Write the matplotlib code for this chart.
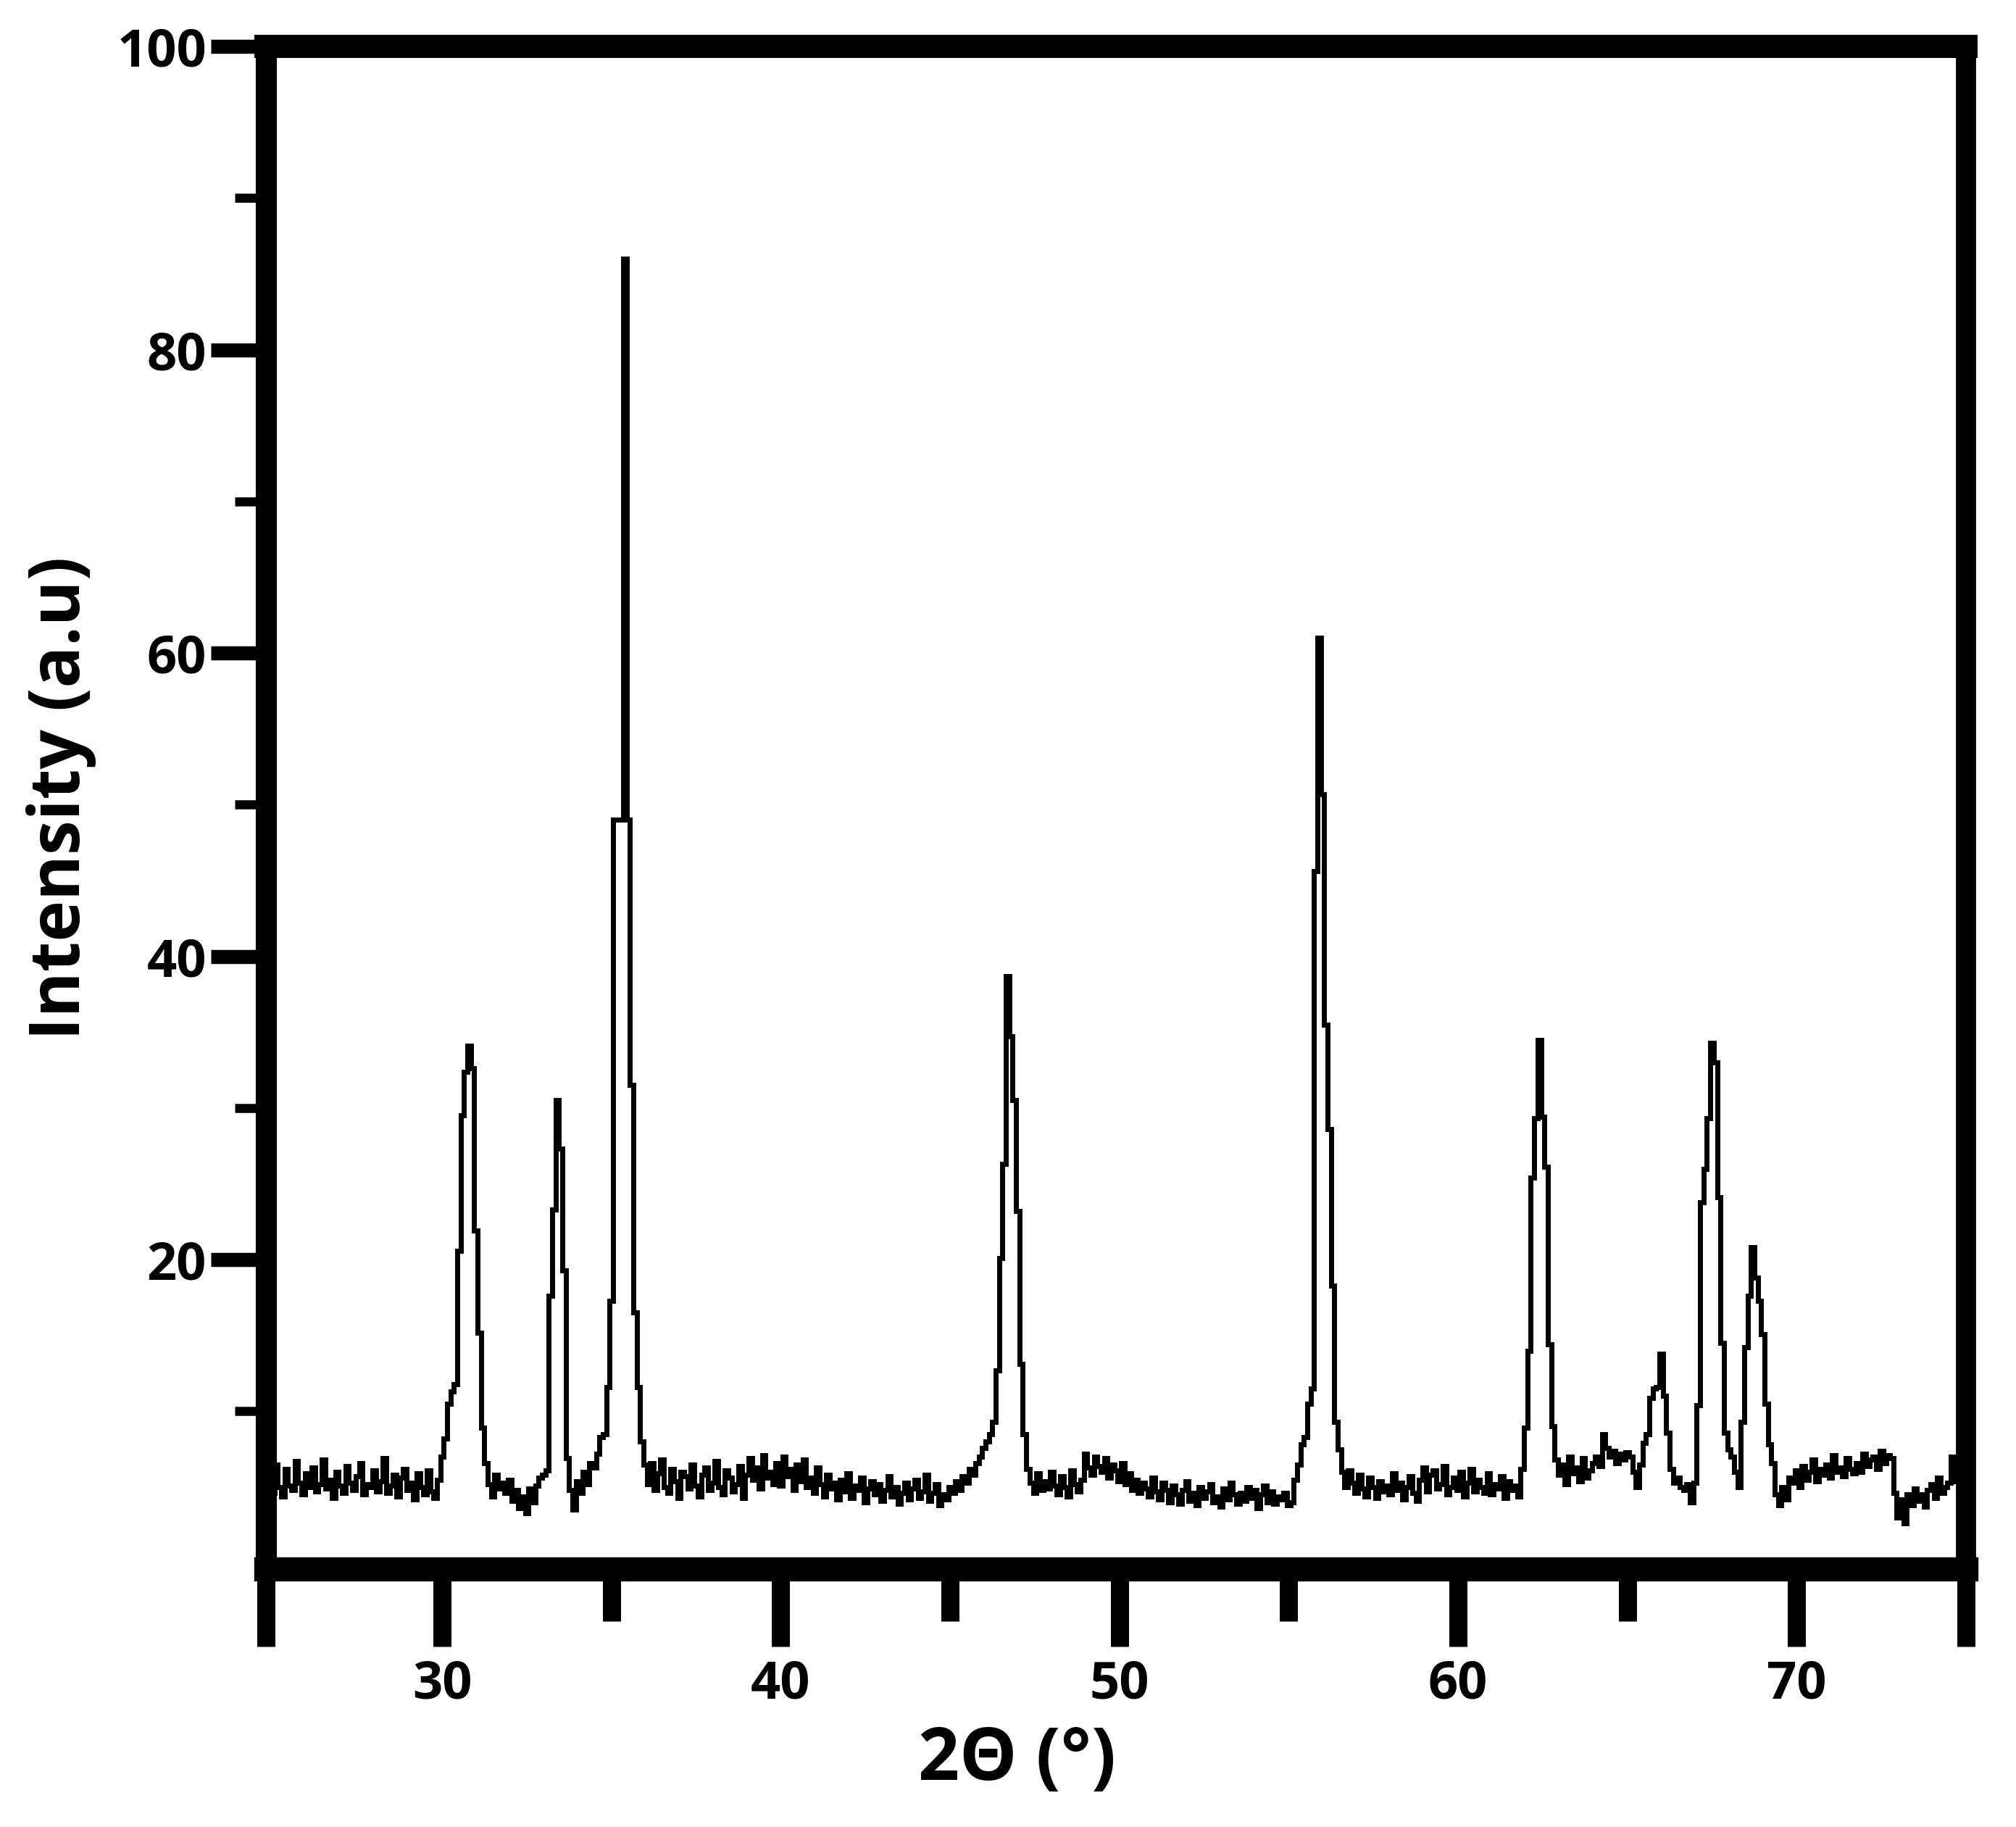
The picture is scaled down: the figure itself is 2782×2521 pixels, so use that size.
import numpy as np
import matplotlib
matplotlib.use("Agg")
import matplotlib.pyplot as plt
from matplotlib.ticker import FixedLocator

# ---------------- data ----------------
two_theta_start = 24.9   # first sample position (deg)
two_theta_step = 0.1     # sampling step (deg)

intensity = [
    5.8, 4.6, 6.5, 5.0, 4.4, 6.2, 5.1, 4.8, 6.7, 5.3,
    4.5, 5.9, 5.0, 6.3, 4.7, 5.2, 6.8, 4.9, 5.5, 4.3,
    6.0, 5.1, 4.6, 6.4, 5.3, 4.8, 5.7, 6.6, 4.5, 5.2,
    5.0, 6.1, 4.7, 5.4, 6.9, 4.6, 5.1, 5.8, 4.4, 5.6,
    6.2, 4.8, 5.3, 4.2, 5.9, 5.0, 4.5, 6.1, 4.7, 4.3,
    5.5, 7.0, 8.2, 10.5, 11.3, 11.8, 20.6, 29.5, 32.4, 34.1,
    32.6, 21.9, 15.2, 8.9, 6.6, 5.2, 4.4, 5.8, 4.9, 5.3,
    4.6, 5.5, 4.1, 4.8, 3.6, 4.4, 3.3, 4.9, 4.0, 5.1,
    5.6, 5.8, 6.1, 17.6, 23.3, 30.5, 27.3, 19.3, 6.9, 4.8,
    3.5, 5.4, 4.6, 6.0, 5.2, 6.6, 6.3, 7.2, 8.3, 8.5,
    11.6, 17.3, 49.0, 49.0, 49.0, 86.0, 49.0, 31.5, 16.5, 11.6,
    8.0, 6.5, 5.2, 6.6, 4.8, 5.9, 6.8, 5.0, 4.6, 6.2,
    5.4, 4.3, 6.0, 5.7, 4.9, 6.5, 5.1, 4.4, 5.8, 6.3,
    4.8, 5.3, 6.7, 5.0, 4.5, 6.1, 5.6, 4.7, 5.2, 6.4,
    4.3, 5.8, 6.9, 5.5, 6.3, 4.9, 7.1, 5.6, 6.0, 5.2,
    6.6, 5.1, 7.0, 5.7, 6.2, 4.8, 6.5, 5.4, 6.8, 5.0,
    5.6, 4.6, 6.3, 5.2, 4.4, 5.8, 4.9, 5.3, 4.2, 5.5,
    4.7, 5.9, 4.3, 5.1, 4.8, 5.6, 4.0, 4.9, 5.4, 4.5,
    5.2, 4.1, 4.8, 5.7, 4.4, 5.0, 3.9, 4.6, 5.3, 4.2,
    4.9, 5.5, 4.3, 4.7, 5.8, 4.1, 4.6, 5.2, 3.8, 4.5,
    4.2, 5.0, 4.6, 5.4, 4.8, 5.7, 5.3, 6.2, 5.8, 6.6,
    7.0, 7.6, 8.0, 8.5, 9.3, 12.7, 20.1, 26.3, 38.7, 34.7,
    30.5, 23.2, 13.1, 8.5, 6.2, 5.3, 4.6, 5.9, 4.8, 5.4,
    4.9, 6.0, 5.1, 4.5, 5.7, 5.0, 4.4, 6.1, 5.2, 4.7,
    5.5, 7.2, 6.3, 5.8, 7.0, 6.4, 6.0, 6.9, 5.6, 6.5,
    6.1, 5.4, 6.6, 5.2, 5.9, 4.8, 5.5, 4.6, 5.3, 4.9,
    4.4, 5.6, 4.7, 4.2, 5.3, 4.8, 4.0, 5.1, 4.5, 3.9,
    4.8, 5.4, 4.1, 4.6, 3.8, 5.0, 4.3, 4.7, 5.2, 4.0,
    4.4, 3.7, 4.9, 4.2, 5.3, 4.5, 3.9, 4.6, 4.1, 5.0,
    4.3, 4.8, 3.6, 4.5, 5.1, 4.0, 4.7, 3.9, 4.4, 4.2,
    4.6, 3.8, 4.0, 5.5, 6.5, 7.8, 8.3, 10.5, 11.5, 45.6,
    61.0, 50.7, 35.5, 28.6, 18.3, 9.3, 7.5, 6.0, 5.0, 6.1,
    5.3, 4.6, 5.8, 4.9, 4.4, 5.6, 5.0, 4.3, 5.4, 4.7,
    5.1, 4.5, 5.9, 4.8, 5.3, 4.2, 5.0, 5.7, 4.6, 4.1,
    5.5, 6.3, 4.7, 5.8, 6.1, 4.9, 5.2, 6.4, 4.5, 5.0,
    5.6, 4.8, 6.0, 4.4, 5.3, 6.2, 4.7, 5.5, 5.0, 4.6,
    5.9, 4.5, 5.2, 4.9, 5.7, 4.3, 5.4, 4.8, 5.1, 4.4,
    6.2, 8.9, 14.0, 25.4, 29.3, 34.5, 29.4, 26.1, 14.4, 9.0,
    6.8, 5.8, 6.5, 5.2, 7.0, 5.9, 6.3, 5.4, 6.9, 5.6,
    6.1, 6.6, 7.0, 6.4, 8.5, 7.6, 7.0, 7.4, 6.6, 7.2,
    6.8, 7.3, 7.0, 6.0, 5.0, 6.5, 7.9, 8.5, 10.9, 11.5,
    11.6, 13.8, 11.0, 8.6, 6.2, 5.3, 5.6, 5.0, 4.8, 5.2,
    4.0, 5.3, 10.4, 23.8, 26.0, 29.3, 34.3, 33.0, 24.1, 14.5,
    8.6, 7.5, 7.0, 6.0, 5.0, 9.3, 14.2, 17.6, 20.8, 18.8,
    17.3, 15.1, 10.5, 7.8, 6.6, 4.5, 3.8, 5.0, 4.2, 5.6,
    5.3, 6.1, 5.0, 6.4, 5.5, 6.0, 6.8, 5.4, 6.2, 5.8,
    6.5, 5.6, 7.1, 6.0, 6.3, 5.7, 6.9, 6.2, 5.9, 6.6,
    6.0, 7.2, 6.4, 6.8, 7.0, 6.2, 7.4, 6.6, 7.1, 6.9,
    4.6, 3.0, 4.2, 2.6, 4.5, 3.8, 4.9, 4.1, 4.5, 3.7,
    4.8, 5.2, 4.3, 5.6, 4.6, 5.0, 5.3, 7.0, 5.4, 6.3,
    5.9,
]

x_major_ticks = [24.8, 30, 40, 50, 60, 70, 75]
x_major_labels = ["", "30", "40", "50", "60", "70", ""]
x_minor_ticks = [35, 45, 55, 65]
y_major_ticks = [20, 40, 60, 80, 100]
y_major_labels = ["20", "40", "60", "80", "100"]
y_minor_ticks = [10, 30, 50, 70, 90]

x_label = "2Θ (°)"
y_label = "Intensity (a.u)"

# ---------------- figure ----------------
plt.rcParams["font.family"] = ["Open Sans", "DejaVu Sans"]
plt.rcParams["font.weight"] = "bold"

W, H = 2782, 2521
fig = plt.figure(figsize=(W / 100, H / 100), dpi=100)
fig.patch.set_facecolor("white")

left_px, right_px, top_px, bottom_px = 367, 2713, 64, 2165
ax = fig.add_axes([left_px / W, 1 - bottom_px / H,
                   (right_px - left_px) / W, (bottom_px - top_px) / H])

two_theta = two_theta_start + two_theta_step * np.arange(len(intensity))
ax.plot(two_theta, intensity, drawstyle="steps-mid", color="black",
        lw=5, solid_joinstyle="miter")

ax.set_xlim(24.8, 75)
ax.set_ylim(-0.4, 100)

ax.spines["bottom"].set_linewidth(24)
ax.spines["top"].set_linewidth(23)
ax.spines["left"].set_linewidth(21)
ax.spines["right"].set_linewidth(20)

ax.xaxis.set_major_locator(FixedLocator(x_major_ticks))
ax.set_xticklabels(x_major_labels)
ax.xaxis.set_minor_locator(FixedLocator(x_minor_ticks))
ax.yaxis.set_major_locator(FixedLocator(y_major_ticks))
ax.set_yticklabels(y_major_labels)
ax.yaxis.set_minor_locator(FixedLocator(y_minor_ticks))

ax.tick_params(axis="x", which="major", direction="out", length=77, width=18,
               pad=12, labelsize=52, colors="black")
ax.tick_params(axis="x", which="minor", direction="out", length=52, width=18)
ax.tick_params(axis="y", which="major", direction="out", length=55, width=14,
               pad=4, labelsize=52, colors="black")
ax.tick_params(axis="y", which="minor", direction="out", length=31, width=9)

for lab in ax.get_xticklabels() + ax.get_yticklabels():
    lab.set_fontweight("bold")

fig.text(1404 / W, 1 - 2430 / H, x_label, ha="center", va="center",
         fontsize=72, fontweight="bold")
fig.text(85 / W, 1 - 1101 / H, y_label, ha="center", va="center",
         rotation=90, fontsize=69, fontweight="bold")

fig.savefig("out.png", dpi=100, facecolor="white")
